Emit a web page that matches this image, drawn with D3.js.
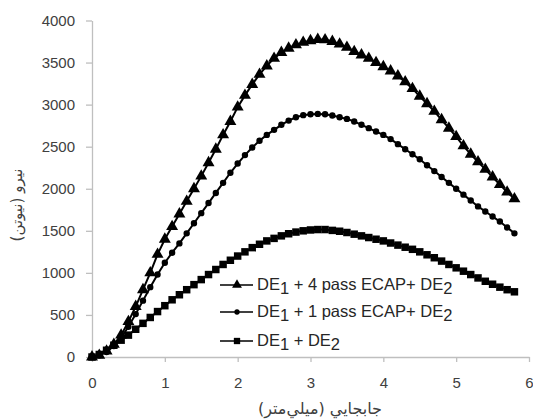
<!DOCTYPE html>
<html>
<head>
<meta charset="utf-8">
<script src="https://cdn.jsdelivr.net/npm/d3@7"></script>
<style>
  body { margin: 0; background: #fff; }
  svg { display: block; }
</style>
</head>
<body>
<svg id="chart" width="533" height="419"></svg>
<script>
// displacement (mm), same sampling for all three tests
const disp = [0, 0.1, 0.2, 0.3, 0.4, 0.5, 0.6, 0.7, 0.8, 0.9, 1.0, 1.1, 1.2, 1.3, 1.4, 1.5, 1.6, 1.7, 1.8, 1.9,
  2.0, 2.1, 2.2, 2.3, 2.4, 2.5, 2.6, 2.7, 2.8, 2.9, 3.0, 3.1, 3.2, 3.3, 3.4, 3.5, 3.6, 3.7, 3.8, 3.9,
  4.0, 4.1, 4.2, 4.3, 4.4, 4.5, 4.6, 4.7, 4.8, 4.9, 5.0, 5.1, 5.2, 5.3, 5.4, 5.5, 5.6, 5.7, 5.8]

// force (N)
const force4pass = [0, 20, 70, 150, 260, 420, 600, 800, 1000, 1220, 1400, 1550, 1700, 1850, 2000, 2150, 2310, 2470, 2640, 2800,
  2970, 3110, 3240, 3360, 3460, 3550, 3620, 3670, 3710, 3740, 3760, 3775, 3770, 3750, 3720, 3680, 3630, 3590, 3550, 3500,
  3450, 3400, 3340, 3270, 3190, 3100, 3010, 2920, 2820, 2720, 2620, 2510, 2410, 2320, 2230, 2140, 2050, 1960, 1880]
const force1pass = [0, 20, 60, 130, 230, 360, 510, 670, 830, 980, 1120, 1240, 1350, 1470, 1590, 1710, 1830, 1950, 2070, 2190,
  2300, 2400, 2490, 2570, 2640, 2700, 2760, 2810, 2850, 2875, 2885, 2890, 2885, 2870, 2850, 2830, 2800, 2760, 2720, 2680,
  2640, 2590, 2530, 2470, 2410, 2350, 2280, 2210, 2140, 2070, 2000, 1930, 1860, 1790, 1730, 1670, 1610, 1540, 1470]
const forceNoEcap = [0, 30, 80, 140, 200, 260, 330, 400, 470, 540, 610, 680, 740, 800, 860, 920, 980, 1040, 1100, 1150,
  1200, 1250, 1300, 1340, 1380, 1410, 1440, 1465, 1485, 1500, 1510, 1515, 1515, 1505, 1495, 1480, 1460, 1440, 1420, 1400,
  1380, 1355, 1330, 1305, 1280, 1250, 1215, 1180, 1140, 1100, 1060, 1020, 980, 940, 900, 865, 830, 800, 775]

const xTicks = [0, 1, 2, 3, 4, 5, 6]
const yTicks = [0, 500, 1000, 1500, 2000, 2500, 3000, 3500, 4000]
const xTitle = 'جابجايي (ميلي‌متر)'
const yTitle = 'نيرو (نيوتن)'

// legend pieces: [main, sub, main, sub]
const legendParts = [
  ['DE', '1', ' + 4 pass ECAP+ DE', '2'],
  ['DE', '1', ' + 1 pass ECAP+ DE', '2'],
  ['DE', '1', ' + DE', '2']
]

const series = [
  { name: 'noEcap', values: forceNoEcap, symbol: d3.symbolSquare, size: 56 },
  { name: 'pass1', values: force1pass, symbol: d3.symbolCircle, size: 32 },
  { name: 'pass4', values: force4pass, symbol: d3.symbolTriangle, size: 62 }
]

const svg = d3.select('#chart')
const x = d3.scaleLinear().domain([0, 6]).range([92, 529])
const y = d3.scaleLinear().domain([0, 4000]).range([357, 20.5])
const axisGrey = '#bfbfbf'
const textColor = '#404040'
const tickFont = '"Liberation Sans", Arial, sans-serif'

// axes
const yAxis = d3.axisLeft(y).tickValues(yTicks).tickFormat(d3.format('d'))
  .tickSizeInner(6).tickSizeOuter(0).tickPadding(11)
const gy = svg.append('g').attr('transform', 'translate(92,0)').call(yAxis)
const xAxis = d3.axisBottom(x).tickValues(xTicks).tickFormat(d3.format('d'))
  .tickSizeInner(5).tickSizeOuter(0).tickPadding(15)
const gx = svg.append('g').attr('transform', 'translate(0,357)').call(xAxis)

;[gx, gy].forEach(g => {
  g.select('.domain').attr('stroke', axisGrey).attr('stroke-width', 1.3)
  g.selectAll('.tick line').attr('stroke', axisGrey).attr('stroke-width', 1.3)
  g.selectAll('.tick text')
    .attr('fill', textColor)
    .style('font-family', tickFont)
    .style('font-size', '15px')
})

// series
const line = d3.line().x((d, i) => x(disp[i])).y(d => y(d))

series.forEach(s => {
  svg.append('path')
    .datum(s.values)
    .attr('fill', 'none')
    .attr('stroke', '#000')
    .attr('stroke-width', 2)
    .attr('d', line)

  svg.selectAll('path.m-' + s.name)
    .data(s.values)
    .enter()
    .append('path')
    .attr('class', 'm-' + s.name)
    .attr('d', d3.symbol().type(s.symbol).size(s.size))
    .attr('transform', (d, i) => `translate(${x(disp[i])},${y(d)})`)
    .attr('fill', '#000')
})

// legend
const legendSymbols = [d3.symbolTriangle, d3.symbolCircle, d3.symbolSquare]
const legendSizes = [42, 22, 40]
const legendY = [285, 312, 341]

legendParts.forEach((parts, i) => {
  const g = svg.append('g').attr('transform', `translate(0,${legendY[i]})`)
  g.append('line').attr('x1', 220).attr('x2', 253).attr('y1', 0).attr('y2', 0)
    .attr('stroke', '#000').attr('stroke-width', 1.5)
  g.append('path').attr('d', d3.symbol().type(legendSymbols[i]).size(legendSizes[i]))
    .attr('transform', 'translate(237,0)').attr('fill', '#000')
  const t = g.append('text').attr('x', 257).attr('y', 5)
    .style('font-family', tickFont).style('font-size', '16.5px').attr('fill', '#262626')
  t.append('tspan').text(parts[0])
  t.append('tspan').attr('dy', 4).text(parts[1])
  t.append('tspan').attr('dy', -4).text(parts[2])
  t.append('tspan').attr('dy', 4).text(parts[3])
})

// axis titles
svg.append('text')
  .attr('x', 320).attr('y', 414)
  .attr('text-anchor', 'middle')
  .attr('direction', 'rtl')
  .style('font-family', '"DejaVu Sans", sans-serif')
  .style('font-size', '16px')
  .attr('fill', textColor)
  .text(xTitle)

svg.append('text')
  .attr('transform', 'translate(22,205) rotate(-90)')
  .attr('text-anchor', 'middle')
  .attr('direction', 'rtl')
  .style('font-family', '"DejaVu Sans", sans-serif')
  .style('font-size', '15px')
  .attr('fill', textColor)
  .text(yTitle)
</script>
</body>
</html>
